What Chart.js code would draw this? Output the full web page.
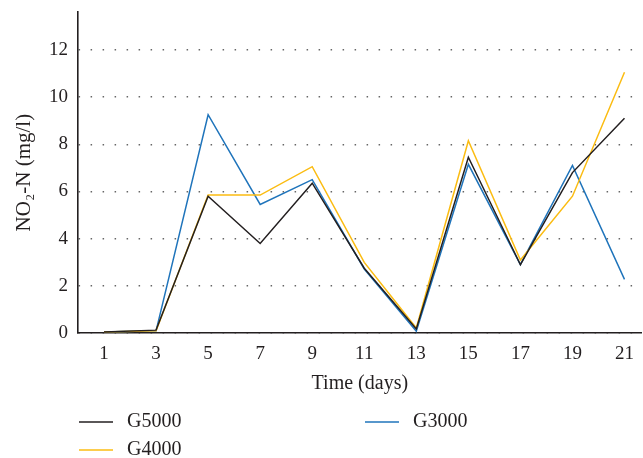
<!DOCTYPE html>
<html>
<head>
<meta charset="utf-8">
<script src="https://cdn.jsdelivr.net/npm/chart.js@4.4.0/dist/chart.umd.min.js"></script>
<style>
    html, body { margin: 0; padding: 0; background: #fff; }
    #wrap { width: 643px; height: 458px; }
</style>
</head>
<body>
<div id="wrap"><canvas id="no2Chart"></canvas></div>
<script>
const days = [1, 3, 5, 7, 9, 11, 13, 15, 17, 19, 21];
const g5000 = [0.05, 0.13, 5.8, 3.8, 6.35, 2.75, 0.18, 7.45, 2.9, 6.8, 9.1];
const g4000 = [0.05, 0.1, 5.85, 5.85, 7.05, 3.0, 0.22, 8.15, 3.1, 5.8, 11.05];
const g3000 = [0.05, 0.1, 9.25, 5.45, 6.5, 2.72, 0.08, 7.15, 2.9, 7.1, 2.28];
const yTicks = [0, 2, 4, 6, 8, 10, 12];
const legendOrder = ['G5000', 'G3000', 'G4000'];

const font = 'Liberation Serif';
const ink = '#231f20';

const toPoints = vals => vals.map((v, i) => ({ x: days[i], y: v }));

// legend drawn by hand: two columns, G5000 / G3000 on top, G4000 below
const gridLegend = {
    id: 'gridLegend',
    afterDraw(chart) {
        const ctx = chart.ctx;
        const cols = [79, 365];
        const rows = [422, 450];
        ctx.save();
        ctx.font = '20px "' + font + '"';
        ctx.textBaseline = 'middle';
        ctx.fillStyle = ink;
        legendOrder.forEach((name, k) => {
            const ds = chart.data.datasets.find(d => d.label === name);
            const x = cols[k % 2];
            const y = rows[Math.floor(k / 2)];
            ctx.strokeStyle = ds.borderColor;
            ctx.lineWidth = 1.6;
            ctx.beginPath();
            ctx.moveTo(x, y);
            ctx.lineTo(x + 34, y);
            ctx.stroke();
            ctx.fillText(name, x + 48, y);
        });
        ctx.restore();
    }
};

const ctx = document.getElementById('no2Chart').getContext('2d');
new Chart(ctx, {
    type: 'line',
    data: {
        datasets: [
            { label: 'G5000', data: toPoints(g5000), borderColor: ink },
            { label: 'G4000', data: toPoints(g4000), borderColor: '#fbbc12' },
            { label: 'G3000', data: toPoints(g3000), borderColor: '#1f74bb' }
        ]
    },
    options: {
        responsive: true,
        maintainAspectRatio: false,
        animation: false,
        elements: {
            line: { borderWidth: 1.5, tension: 0 },
            point: { radius: 0 }
        },
        layout: { padding: { top: 12, right: 0, left: 0, bottom: 64 } },
        plugins: {
            legend: { display: false },
            tooltip: { enabled: false }
        },
        scales: {
            x: {
                type: 'linear',
                min: 0,
                max: 21.66,
                afterBuildTicks: scale => { scale.ticks = days.map(v => ({ value: v })); },
                grid: { display: false, drawTicks: false },
                border: { display: true, color: ink, width: 1.6 },
                ticks: { color: ink, padding: 9, font: { family: font, size: 19 } },
                title: {
                    display: true,
                    text: 'Time (days)',
                    color: ink,
                    padding: { top: 0, bottom: 0 },
                    font: { family: font, size: 20, lineHeight: 1.0 }
                }
            },
            y: {
                min: 0,
                max: 13.6,
                afterBuildTicks: scale => { scale.ticks = yTicks.map(v => ({ value: v })); },
                afterFit: scale => {
                    scale.width = 78;
                    scale.paddingTop = 0;
                    scale.paddingBottom = 0;
                },
                grid: {
                    drawTicks: false,
                    color: '#666',
                    lineWidth: 1.5
                },
                border: { display: true, color: ink, width: 1.6, dash: [1.5, 10.5], dashOffset: 0 },
                ticks: { color: ink, padding: 10, font: { family: font, size: 19 } },
                title: {
                    display: true,
                    text: 'NO\u2082-N (mg/l)',
                    color: ink,
                    padding: { top: 12, bottom: 0 },
                    font: { family: font, size: 21 }
                }
            }
        }
    },
    plugins: [gridLegend]
});
</script>
</body>
</html>
